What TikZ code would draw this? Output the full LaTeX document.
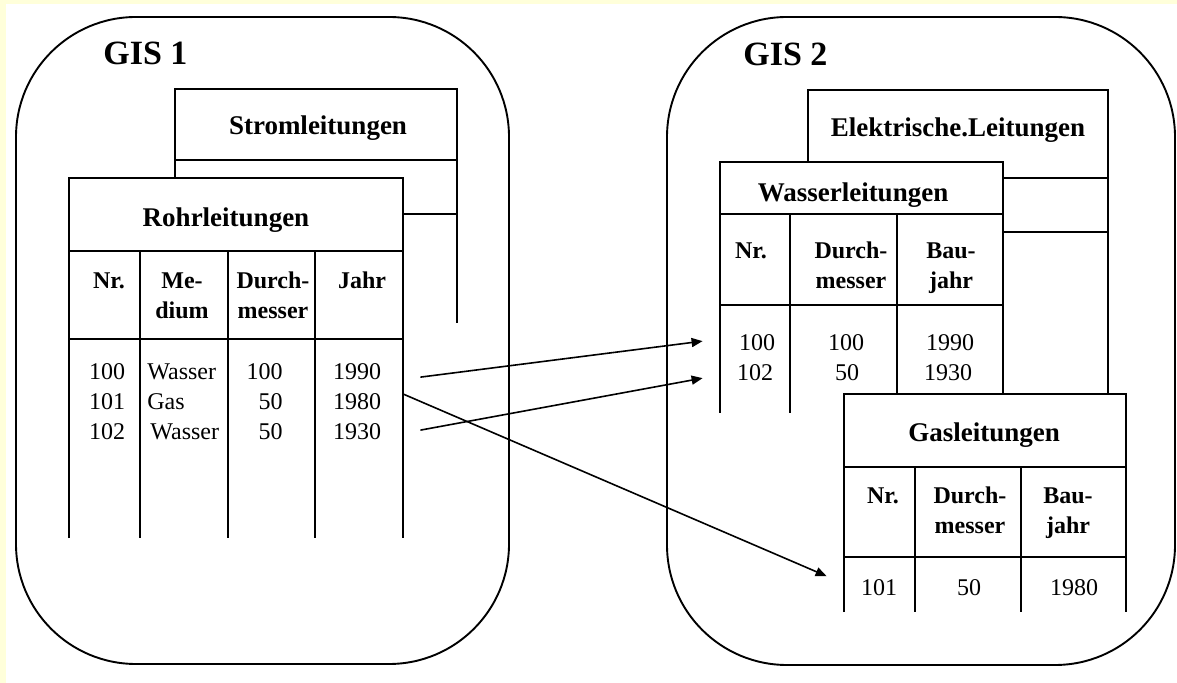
\documentclass[tikz,border=0pt]{standalone}
\usepackage{fontspec}
\setmainfont{Liberation Serif}
\usepackage{tikz}
\usetikzlibrary{arrows.meta}
\definecolor{pageyellow}{RGB}{255,255,218}
\newcommand{\gisfont}{\fontsize{17}{20}\selectfont\bfseries}
\newcommand{\tbltitlefont}{\fontsize{13.5}{16}\selectfont\bfseries}
\newcommand{\hdfont}{\fontsize{12}{15}\selectfont\bfseries}
\newcommand{\cellfont}{\fontsize{12}{15}\selectfont}

\begin{document}
\begin{tikzpicture}[
  x=0.5pt, y=-0.5pt,
  gis/.style={draw, line width=0.95pt, rounded corners=60pt},
  tbl/.style={line width=0.85pt},
  cover/.style={fill=white},
  gislabel/.style={font=\gisfont, anchor=base west, inner sep=0pt},
  tbltitle/.style={font=\tbltitlefont, anchor=base, inner sep=0pt},
  colhead/.style={font=\hdfont, align=center, anchor=north, inner sep=0pt},
  cell/.style={font=\cellfont, anchor=base, inner sep=0pt},
  arrow/.style={-{Triangle[length=5.5pt,width=4.5pt]}, line width=0.8pt},
]
  \useasboundingbox (0,0) rectangle (1177,683);
  % page margin
  \fill[pageyellow] (0,0) rectangle (6,683);
  \fill[pageyellow] (0,0) rectangle (1177,4);

  % GIS frames
  \draw[gis] (16,17) rectangle (509,664);
  \draw[gis] (667,17) rectangle (1175,665);
  \node[gislabel] (gis1) at (103,65) {GIS 1};
  \node[gislabel] (gis2) at (743,66) {GIS 2};

  % Stromleitungen (behind)
  \draw[tbl] (175,323) -- (175,89) -- (457,89) -- (457,323);
  \draw[tbl] (175,160) -- (457,160);
  \draw[tbl] (175,214) -- (457,214);
  \node[tbltitle] (strom) at (318,135) {Stromleitungen};

  % Rohrleitungen
  \fill[cover] (69,178) rectangle (403,538);
  \draw[tbl] (69,538) -- (69,178) -- (403,178) -- (403,538);
  \draw[tbl] (69,251) -- (403,251);
  \draw[tbl] (69,339) -- (403,339);
  \draw[tbl] (140,251) -- (140,538);
  \draw[tbl] (228,251) -- (228,538);
  \draw[tbl] (315,251) -- (315,538);
  \node[tbltitle] (rohr) at (226,227) {Rohrleitungen};
  \node[colhead] (rnr) at (109,267) {\strut Nr.};
  \node[colhead] (rmed) at (182,267) {\strut Me-\\dium};
  \node[colhead] (rdm) at (273,267) {\strut Durch-\\messer};
  \node[colhead] (rjahr) at (362,267) {\strut Jahr};
  \node[cell] (rn1) at (107,380) {100};
  \node[cell] (rn2) at (107,410) {101};
  \node[cell] (rn3) at (107,440) {102};
  \node[cell, anchor=base west] (rm1) at (147,380) {Wasser};
  \node[cell, anchor=base west] (rm2) at (147,410) {Gas};
  \node[cell, anchor=base west] (rm3) at (150,440) {Wasser};
  \node[cell, anchor=base east] (rd1) at (283,380) {100};
  \node[cell, anchor=base east] (rd2) at (283,410) {50};
  \node[cell, anchor=base east] (rd3) at (283,440) {50};
  \node[cell] (rj1) at (357,380) {1990};
  \node[cell] (rj2) at (357,410) {1980};
  \node[cell] (rj3) at (357,440) {1930};

  % Elektrische.Leitungen (behind)
  \draw[tbl] (808,300) -- (808,90) -- (1108,90) -- (1108,420);
  \draw[tbl] (808,178) -- (1108,178);
  \draw[tbl] (808,232) -- (1108,232);
  \node[tbltitle] (elek) at (958,137) {Elektrische.Leitungen};

  % Wasserleitungen
  \fill[cover] (720,162) rectangle (1003,413);
  \draw[tbl] (720,413) -- (720,162) -- (1003,162) -- (1003,413);
  \draw[tbl] (720,214) -- (1003,214);
  \draw[tbl] (720,305) -- (1003,305);
  \draw[tbl] (790,214) -- (790,413);
  \draw[tbl] (897,214) -- (897,413);
  \node[tbltitle] (wass) at (853,202) {Wasserleitungen};
  \node[colhead] (wnr) at (751,237) {\strut Nr.};
  \node[colhead] (wdm) at (851,237) {\strut Durch-\\messer};
  \node[colhead] (wbj) at (951,237) {\strut Bau-\\jahr};
  \node[cell] (wn1) at (757,351) {100};
  \node[cell] (wn2) at (755,381) {102};
  \node[cell] (wd1) at (846,351) {100};
  \node[cell] (wd2) at (847,381) {50};
  \node[cell] (wb1) at (950,351) {1990};
  \node[cell] (wb2) at (948,381) {1930};

  % Gasleitungen
  \fill[cover] (844,394) rectangle (1126,612);
  \draw[tbl] (844,612) -- (844,394) -- (1126,394) -- (1126,612);
  \draw[tbl] (844,467) -- (1126,467);
  \draw[tbl] (844,557) -- (1126,557);
  \draw[tbl] (915,467) -- (915,612);
  \draw[tbl] (1021,467) -- (1021,612);
  \node[tbltitle] (gas) at (984,442) {Gasleitungen};
  \node[colhead] (gnr) at (883,482) {\strut Nr.};
  \node[colhead] (gdm) at (970,482) {\strut Durch-\\messer};
  \node[colhead] (gbj) at (1068,482) {\strut Bau-\\jahr};
  \node[cell] (gn1) at (879,595) {101};
  \node[cell] (gd1) at (969,595) {50};
  \node[cell] (gb1) at (1074,595) {1980};

  % Arrows
  \draw[arrow] ([xshift=19.5pt,yshift=-2.5pt]rj1.east) -- ([xshift=-18pt,yshift=1pt]wn1.west);
  \draw[arrow] ([xshift=19.5pt,yshift=1pt]rj3.east) -- ([xshift=-17pt,yshift=-2.5pt]wn2.west);
  \draw[arrow] ([xshift=11pt,yshift=4pt]rj2.east) -- ([xshift=-17pt,yshift=5.5pt]gn1.west);
\end{tikzpicture}
\end{document}
